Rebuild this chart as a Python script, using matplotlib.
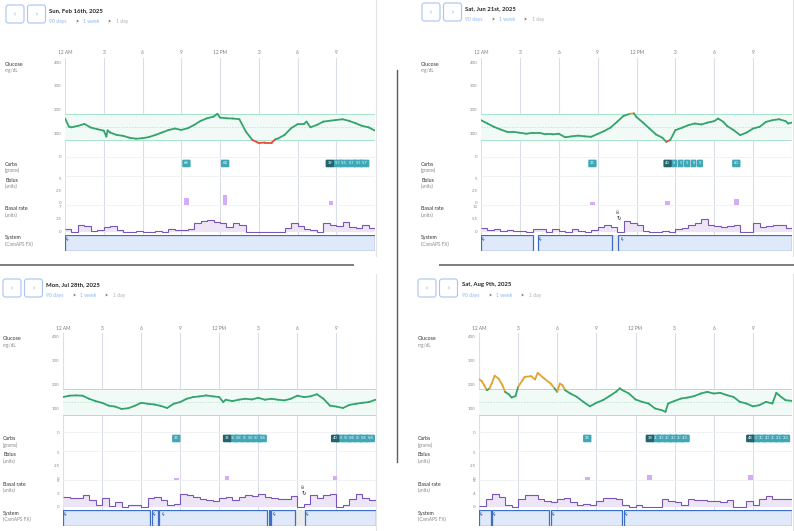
"""
plot.py - four daily CamAPS FX reports (glucose, carbs, bolus, basal, system).
Output: out.png
"""

import numpy as np
import matplotlib
matplotlib.use("Agg")
import matplotlib.pyplot as plt
from matplotlib.collections import LineCollection
from matplotlib.patches import FancyBboxPatch, Rectangle

# ── Data ──────────────────────────────────────────────────────────────────────

TITLES = ["Sun, Feb 16th, 2025", "Sat, Jun 21st, 2025",
          "Mon, Jul 28th, 2025", "Sat, Aug 9th, 2025"]
HOUR_TICKS = [0, 3, 6, 9, 12, 15, 18, 21]
HOUR_LABELS = ["12 AM", "3", "6", "9", "12 PM", "3", "6", "9"]

# glucose, mg/dL
P1_G_HOURS = [0, 0.3, 0.5, 1, 1.5, 2, 2.5, 3, 3.2, 3.3, 3.5, 4, 4.5, 5, 5.5, 6, 6.5, 7, 7.5, 8,
              8.5, 9, 9.5, 10, 10.5, 11, 11.5, 11.8, 12, 12.5, 13, 13.5, 14, 14.5, 15, 15.5, 16,
              16.3, 16.5, 17, 17.5, 18, 18.5, 18.7, 19, 19.5, 20, 21, 21.5, 22, 22.5, 23, 23.5, 24]
P1_G_VALUES = [163, 128, 125, 131, 139, 124, 117, 111, 86, 112, 103, 93, 89, 81, 77, 79, 84, 93,
               103, 113, 120, 114, 121, 135, 152, 163, 170, 182, 166, 163, 162, 159, 107, 72, 59,
               61, 61, 75, 78, 93, 121, 138, 139, 149, 125, 135, 149, 156, 159, 152, 142, 131,
               125, 111]
P2_G_HOURS = [0, 0.5, 1, 1.5, 2, 2.5, 3, 3.5, 4, 4.5, 5, 5.5, 6, 6.5, 7, 7.5, 8, 8.5, 9, 9.5,
              10, 10.5, 11, 11.5, 11.8, 12, 12.5, 13, 13.5, 14, 14.3, 14.6, 15, 15.5, 16, 16.5,
              17, 17.5, 18, 18.3, 18.7, 19, 19.5, 20, 20.5, 21, 21.5, 22, 22.5, 23, 23.5, 23.7, 24]
P2_G_VALUES = [155, 141, 127, 116, 106, 106, 102, 98, 102, 102, 95, 95, 98, 83, 87, 90, 87, 85,
               97, 109, 124, 148, 173, 182, 184, 168, 145, 120, 95, 81, 64, 71, 113, 123, 134,
               141, 137, 145, 151, 162, 148, 130, 113, 92, 103, 120, 127, 148, 155, 159, 151,
               141, 145]
P3_G_HOURS = [0, 0.5, 1, 1.5, 2, 2.5, 3, 3.5, 4, 4.5, 5, 5.5, 6, 6.5, 7, 7.5, 8, 8.5, 9, 9.5,
              10, 10.5, 11, 11.5, 12, 12.3, 12.5, 13, 13.5, 14, 14.5, 15, 15.5, 16, 16.5, 17,
              17.5, 18, 18.5, 19, 19.5, 20, 20.5, 21, 21.5, 22, 22.5, 23, 23.5, 24]
P3_G_VALUES = [147, 153, 154, 153, 140, 130, 123, 111, 107, 97, 100, 110, 123, 119, 116, 110,
               101, 119, 126, 140, 147, 150, 154, 150, 147, 126, 136, 130, 136, 140, 137, 144,
               136, 140, 136, 133, 140, 153, 147, 150, 159, 140, 111, 107, 101, 114, 119, 123,
               126, 136]
P4_G_HOURS = [0, 0.2, 0.4, 0.6, 0.8, 1, 1.2, 1.5, 1.8, 2, 2.3, 2.5, 2.8, 3, 3.3, 3.5, 4, 4.3,
              4.5, 5, 5.5, 5.8, 6, 6.2, 6.4, 6.6, 7, 7.5, 8, 8.5, 9, 9.5, 10, 10.5, 10.8, 11,
              11.5, 12, 12.5, 13, 13.5, 14, 14.3, 14.5, 15, 15.5, 16, 16.5, 17, 17.5, 18, 18.5,
              19, 19.5, 20, 20.5, 21, 21.5, 22, 22.5, 22.8, 23, 23.5, 24]
P4_G_VALUES = [222, 215, 197, 176, 183, 207, 237, 225, 197, 169, 158, 145, 151, 190, 215, 232,
               235, 221, 249, 225, 204, 183, 169, 204, 197, 176, 162, 148, 127, 108, 123, 134,
               151, 169, 184, 176, 162, 137, 127, 120, 99, 92, 85, 120, 131, 141, 145, 151, 162,
               169, 162, 165, 155, 148, 127, 120, 108, 113, 127, 120, 165, 155, 134, 131]

# carbs, grams
P1_CARB_HOURS = [9.4, 12.4, 20.5, 21.1, 21.6, 22.2, 22.7, 23.2]
P1_CARB_GRAMS = [68, 64, 39, 5.7, 5.5, 5.7, 5.5, 5.7]
P2_CARB_HOURS = [8.6, 14.4, 14.9, 15.4, 15.9, 16.4, 16.9, 19.7]
P2_CARB_GRAMS = [35, 40, 5, 5, 5, 5, 5, 60]
P3_CARB_HOURS = [8.7, 12.6, 13.1, 13.5, 14.0, 14.4, 14.9, 15.3,
                 20.9, 21.3, 21.8, 22.2, 22.7, 23.1, 23.6]
P3_CARB_GRAMS = [35, 35, 5.8, 5.8, 5.8, 5.8, 5.8, 5.8, 40, 5.8, 5.8, 5.8, 5.8, 5.8, 5.8]
P4_CARB_HOURS = [8.3, 13.1, 13.6, 14.0, 14.5, 14.9, 15.4, 15.8,
                 20.8, 21.2, 21.7, 22.1, 22.6, 23.0, 23.5]
P4_CARB_GRAMS = [35, 38, 3.3, 3.3, 3.3, 3.3, 3.3, 3.3, 48, 3.3, 3.3, 3.3, 3.3, 3.3, 3.3]

# bolus, units
P1_BOLUS_HOURS = [9.4, 12.4, 20.6]
P1_BOLUS_UNITS = [1.1, 1.6, 0.4]
P2_BOLUS_HOURS = [8.6, 14.4, 19.7]
P2_BOLUS_UNITS = [0.2, 0.5, 0.9]
P3_BOLUS_HOURS = [8.7, 12.6, 20.9]
P3_BOLUS_UNITS = [0.1, 0.4, 0.5]
P4_BOLUS_HOURS = [8.3, 13.1, 20.8]
P4_BOLUS_UNITS = [0.2, 0.6, 0.7]

# basal rate, units/h, one value per half hour
BASAL_EDGES = np.arange(0, 24.5, 0.5)
P1_BASAL = [0.8, 0, 2.0, 1.6, 0.3, 0.6, 1.4, 1.6, 0.5, 0, 0, 0.2, 0, 0, 0.2, 0,
            0.8, 0.6, 0.4, 0.8, 2.5, 2.9, 3.1, 2.8, 2.3, 1.3, 2.5, 2.0, 0, 0, 0, 0,
            0, 0, 1.1, 2.5, 1.6, 0.8, 0.5, 0, 2.5, 2.0, 1.6, 2.7, 1.4, 1.1, 2.0, 1.1]
P2_BASAL = [1.5, 0.9, 1.2, 0.5, 0.9, 0.3, 0.5, 0, 1.2, 1.2, 0.2, 1.2, 0.5, 0, 1.2, 0.5,
            0, 0.9, 2.0, 3.1, 2.0, 0, 4.6, 4.0, 3.1, 0.5, 0, 0, 0.5, 0, 1.2, 1.5,
            3.1, 4.0, 5.6, 3.1, 2.5, 2.0, 2.5, 3.1, 0, 0, 3.6, 2.0, 2.5, 3.1, 2.8, 1.5]
P3_BASAL = [2.4, 2.1, 2.1, 2.7, 1.6, 0.4, 2.1, 0.3, 1.2, 0, 0.5, 0.5, 0, 2.1, 2.3, 1.5,
            0.4, 0.8, 3.1, 2.7, 2.3, 1.9, 1.6, 1.3, 2.1, 2.3, 1.6, 2.3, 2.7, 2.6, 2.9, 2.3,
            2.1, 1.9, 1.8, 2.5, 0, 0.8, 2.7, 2.1, 2.7, 2.9, 0, 0.5, 1.9, 2.9, 2.1, 1.6]
P4_BASAL = [0.3, 2.4, 4.0, 3.0, 0.5, 0, 2.4, 3.6, 3.6, 2.4, 1.9, 1.4, 2.4, 2.8, 1.4, 0.7,
            1.0, 0.5, 1.9, 2.9, 2.9, 2.4, 0.5, 0, 0.5, 0, 0, 0, 2.6, 1.9, 1.4, 0.7,
            2.4, 2.2, 2.2, 1.9, 1.9, 1.4, 2.2, 0, 0, 1.9, 0.5, 2.6, 3.4, 2.6, 2.6, 2.4]
BASAL_MAX = [7, 11, 6, 8]

# system (CamAPS FX) auto-mode segments, gaps, mode-switch markers, site changes
P1_SYS = [(0, 24)]
P2_SYS = [(0, 4.0), (4.4, 10.1), (10.6, 24)]
P3_SYS = [(0, 6.7), (6.8, 7.3), (7.4, 15.7), (15.8, 15.9), (16.0, 17.8), (18.6, 24)]
P4_SYS = [(0, 0.9), (1.0, 5.4), (5.5, 11.0), (11.1, 24)]
P1_GAPS, P2_GAPS, P3_GAPS, P4_GAPS = [], [(10.1, 10.6)], [(17.8, 18.6)], []
P1_BOLTS = [0.2]
P2_BOLTS = [0.15, 4.6, 10.9]
P3_BOLTS = [0.2, 7.0, 7.7, 16.2, 18.8]
P4_BOLTS = [0.2, 1.2, 5.7, 11.3]
P1_SITE, P2_SITE, P3_SITE, P4_SITE = [], [10.65], [18.5], []

# ── Styling / layout ──────────────────────────────────────────────────────────

plt.rcParams["font.family"] = ["Lato", "DejaVu Sans"]

W, H = 794, 531
GREEN, ORANGE, RED = "#34a46c", "#e2a232", "#e84a3f"
BAND_FILL, BAND_LINE = "#f1faf6", "#a6e4cb"
GRID, ROWLINE = "#d9dee7", "#eef0f4"
TEAL, TEAL_DARK = "#3fa7b6", "#25646e"
BOLUS = "#d3adf7"
BASAL_LINE, BASAL_FILL = "#7a55b9", "#ede5f5"
SYS_FILL, SYS_EDGE = "#dfe9fa", "#3d6ec7"
LOW, HIGH, TARGET = 70, 180, 125

# per panel: axis x range, y of the 400 mg/dL line, label x, header position
AX_X0 = [65, 481, 63, 479]
AX_X1 = [375, 792, 375.5, 792]
Y_TOP = [62, 62, 337, 337]
LABEL_X = [5, 421, 3, 418]
BTN_X = [6, 422, 3, 418]
BTN_Y = [5, 3, 279, 279]
TITLE_X = [49, 465, 46, 462]
TITLE_Y = [10.5, 8.5, 284.5, 284.5]

G_HOURS = [P1_G_HOURS, P2_G_HOURS, P3_G_HOURS, P4_G_HOURS]
G_VALUES = [P1_G_VALUES, P2_G_VALUES, P3_G_VALUES, P4_G_VALUES]
CARB_HOURS = [P1_CARB_HOURS, P2_CARB_HOURS, P3_CARB_HOURS, P4_CARB_HOURS]
CARB_GRAMS = [P1_CARB_GRAMS, P2_CARB_GRAMS, P3_CARB_GRAMS, P4_CARB_GRAMS]
BOLUS_HOURS = [P1_BOLUS_HOURS, P2_BOLUS_HOURS, P3_BOLUS_HOURS, P4_BOLUS_HOURS]
BOLUS_UNITS = [P1_BOLUS_UNITS, P2_BOLUS_UNITS, P3_BOLUS_UNITS, P4_BOLUS_UNITS]
BASAL = [P1_BASAL, P2_BASAL, P3_BASAL, P4_BASAL]
SYS = [P1_SYS, P2_SYS, P3_SYS, P4_SYS]
GAPS = [P1_GAPS, P2_GAPS, P3_GAPS, P4_GAPS]
BOLTS = [P1_BOLTS, P2_BOLTS, P3_BOLTS, P4_BOLTS]
SITES = [P1_SITE, P2_SITE, P3_SITE, P4_SITE]


def rect(x0, y0, x1, y1):
    """pixel box (top-left origin) -> figure fraction rect"""
    return [x0 / W, 1 - y1 / H, (x1 - x0) / W, (y1 - y0) / H]


def bare(ax, ylim):
    ax.set_xlim(0, 24)
    ax.set_ylim(*ylim)
    ax.patch.set_alpha(0)
    for s in ax.spines.values():
        s.set_visible(False)
    ax.set_xticks([])
    ax.tick_params(axis="y", length=0, pad=2.6, labelsize=3.2, labelcolor="#8a8a8a")


def label(ov, x, y, title, sub):
    ov.text(x, y, title, fontsize=3.8, color="#333333", va="center", ha="left")
    ov.text(x, y + 6.5, sub, fontsize=3.4, color="#8a8a8a", va="center", ha="left")


def draw_header(ov, i):
    bx, by = BTN_X[i], BTN_Y[i]
    for k, ch in enumerate(["‹", "›"]):
        x = bx + k * 21.5
        ov.add_patch(FancyBboxPatch((x, by), 18, 18, boxstyle="round,pad=0,rounding_size=2.5",
                                    fc="white", ec="#aac5f0", lw=0.8))
        ov.text(x + 9, by + 8.5, ch, fontsize=5, color="#5a8de4", ha="center", va="center")
    tx, ty = TITLE_X[i], TITLE_Y[i]
    ov.text(tx, ty, TITLES[i], fontsize=4.3, fontweight="bold", color="#222222", va="center")
    crumbs = [(0, "90 days", "#8db4f3", "normal"), (26, ">", "#333333", "bold"),
              (34, "1 week", "#8db4f3", "normal"), (58, ">", "#333333", "bold"),
              (67, "1 day", "#b0b0b0", "normal")]
    for dx, s, c, w in crumbs:
        ov.text(tx + dx, ty + 11, s, fontsize=3.7, color=c, fontweight=w, va="center")


def draw_panel(fig, ov, i):
    x0, x1, yt, lx = AX_X0[i], AX_X1[i], Y_TOP[i], LABEL_X[i]

    # vertical hour grid behind every row
    bg = fig.add_axes(rect(x0, yt - 4, x1, yt + 189))
    bare(bg, (0, 1))
    bg.set_yticks([])
    for h in HOUR_TICKS + [24]:
        bg.axvline(h, color=GRID, lw=0.8, zorder=0)
    for yy in (95, 114, 143):
        bg.axhline(1 - (yy + 4) / 193, color=ROWLINE, lw=0.6, zorder=0)
    for h, s in zip(HOUR_TICKS, HOUR_LABELS):
        ov.text(x0 + (x1 - x0) * h / 24, yt - 9, s, fontsize=3.4, color="#7a7a7a",
                ha="center", va="center")

    # glucose
    g = fig.add_axes(rect(x0, yt, x1, yt + 95))
    bare(g, (0, 400))
    g.set_yticks([0, 100, 200, 300, 400])
    g.axhspan(LOW, HIGH, color=BAND_FILL, lw=0, zorder=1)
    g.axhline(HIGH, color=BAND_LINE, lw=0.7, zorder=2)
    g.axhline(LOW, color=BAND_LINE, lw=0.7, zorder=2)
    g.axhline(TARGET, color=BAND_LINE, lw=0.5, ls=(0, (2, 2)), zorder=2)
    hrs = np.asarray(G_HOURS[i], dtype=float)
    vals = np.asarray(G_VALUES[i], dtype=float)
    pts = np.column_stack([hrs, vals])
    segs = np.stack([pts[:-1], pts[1:]], axis=1)
    mid = (vals[:-1] + vals[1:]) / 2
    cols = [ORANGE if m > HIGH else RED if m < LOW else GREEN for m in mid]
    g.add_collection(LineCollection(segs, colors=cols, lw=1.3, capstyle="round",
                                    joinstyle="round", zorder=3))
    label(ov, lx, yt + 2, "Glucose", "mg/dL")

    # carbs: the first entry of a run of closely spaced entries is drawn dark
    c = fig.add_axes(rect(x0, yt + 95, x1, yt + 114))
    bare(c, (0, 1))
    c.set_yticks([])
    ch = CARB_HOURS[i]
    for k, (h, gr) in enumerate(zip(ch, CARB_GRAMS[i])):
        has_next = k + 1 < len(ch) and ch[k + 1] - h < 1.0
        has_prev = k > 0 and h - ch[k - 1] < 1.0
        dark = has_next and not has_prev
        c.text(h, 0.66, f"{gr:g}", fontsize=2.9, color="white", ha="center", va="center",
               zorder=2 if dark else 1,
               bbox=dict(boxstyle="round,pad=0.45,rounding_size=0.25",
                         fc=TEAL_DARK if dark else TEAL, ec="none"))
    label(ov, lx, yt + 102, "Carbs", "(grams)")

    # bolus
    b = fig.add_axes(rect(x0, yt + 114, x1, yt + 143))
    bare(b, (-0.4, 5.4))
    b.set_yticks([0, 2.5, 5])
    b.set_yticklabels(["0", "2.5", "5"])
    units = np.asarray(BOLUS_UNITS[i])
    b.bar(BOLUS_HOURS[i], units + 0.4, bottom=-0.4, width=0.36, color=BOLUS, lw=0)
    label(ov, lx, yt + 118, "Bolus", "(units)")

    # basal
    mx = BASAL_MAX[i]
    r = fig.add_axes(rect(x0, yt + 144, x1, yt + 170.5))
    bare(r, (-0.02 * mx, mx))
    r.set_yticks([0, mx / 2, mx])
    r.set_yticklabels(["0", f"{mx / 2:g}", f"{mx:g}"])
    r.stairs(BASAL[i], BASAL_EDGES, baseline=0, fill=True, color=BASAL_FILL, lw=0)
    r.stairs(BASAL[i], BASAL_EDGES, baseline=None, color=BASAL_LINE, lw=0.8)
    for h in SITES[i]:
        r.text(h, 0.82 * mx, "80", fontsize=2.8, rotation=90, ha="center", va="center",
               color="#333333")
        r.text(h, 0.55 * mx, "↻", fontsize=4, ha="center", va="center", color="#333333")
    label(ov, lx, yt + 147, "Basal rate", "(units)")

    # system
    s = fig.add_axes(rect(x0, yt + 173, x1, yt + 189))
    bare(s, (0, 1))
    s.set_yticks([])
    for a, e in GAPS[i]:
        s.add_patch(Rectangle((a, 0), e - a, 1, fc="#ebebeb", ec="none"))
    for a, e in SYS[i]:
        s.add_patch(Rectangle((a, 0), e - a, 1, fc=SYS_FILL, ec=SYS_EDGE, lw=0.9))
    for h in BOLTS[i]:
        s.text(h, 0.78, "ϟ", fontsize=3.6, color="#2f5fb8", ha="center", va="center",
               fontweight="bold")
    label(ov, lx, yt + 176, "System", "(CamAPS FX)")


def main():
    fig = plt.figure(figsize=(W / 100, H / 100), dpi=100)
    fig.patch.set_facecolor("white")

    ov = fig.add_axes([0, 0, 1, 1])
    ov.set_xlim(0, W)
    ov.set_ylim(H, 0)
    ov.axis("off")

    # page borders and window separators
    for x in (376, 793):
        ov.plot([x, x], [0, 256], color="#e4e4e4", lw=0.8)
        ov.plot([x, x], [274, H], color="#e4e4e4", lw=0.8)
    ov.plot([0, 353], [265, 265], color="#7d7d7d", lw=1.4)
    ov.plot([440, W], [265, 265], color="#7d7d7d", lw=1.4)
    ov.plot([397, 397], [70, 462], color="#5e5e5e", lw=1.0)

    for i in range(4):
        draw_header(ov, i)
        draw_panel(fig, ov, i)

    fig.savefig("out.png", dpi=100)
    plt.close(fig)


if __name__ == "__main__":
    main()
